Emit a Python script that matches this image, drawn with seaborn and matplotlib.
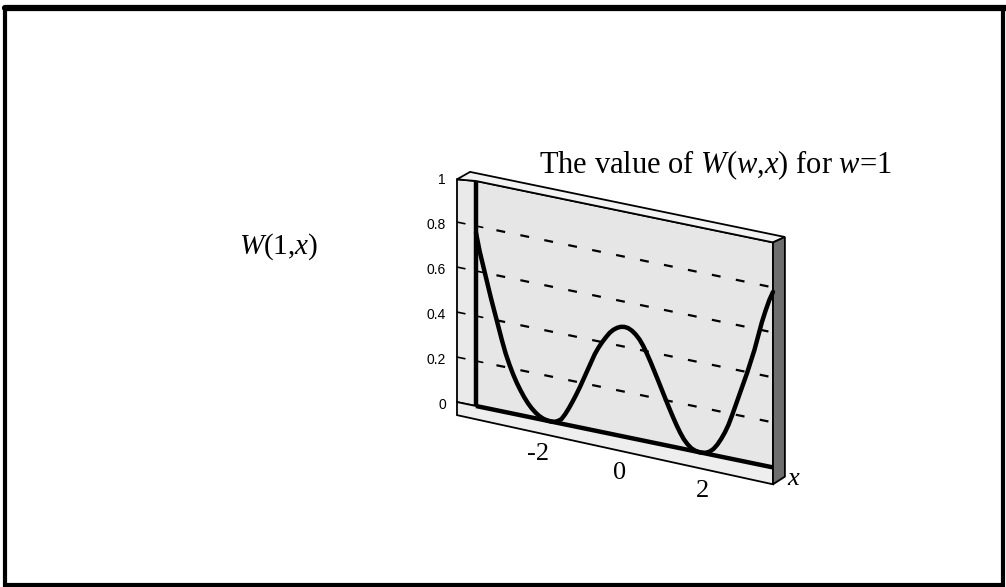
import numpy as np
import matplotlib
matplotlib.use("Agg")
import matplotlib.pyplot as plt
from matplotlib.patches import Polygon, Rectangle
from matplotlib.lines import Line2D
from matplotlib.transforms import Affine2D, offset_copy
import seaborn as sns

# curve
x_vals = [-4.0, -3.9, -3.8, -3.7, -3.6, -3.5, -3.4, -3.3, -3.2, -3.1,
          -3.0, -2.9, -2.8, -2.7, -2.6, -2.5, -2.4, -2.3, -2.2, -2.1,
          -2.0, -1.9, -1.8, -1.7, -1.6, -1.5, -1.4, -1.3, -1.2, -1.1,
          -1.0, -0.9, -0.8, -0.7, -0.6, -0.5, -0.4, -0.3, -0.2, -0.1,
          0.0, 0.1, 0.2, 0.3, 0.4, 0.5, 0.6, 0.7, 0.8, 0.9,
          1.0, 1.1, 1.2, 1.3, 1.4, 1.5, 1.6, 1.7, 1.8, 1.9,
          2.0, 2.1, 2.2, 2.3, 2.4, 2.5, 2.6, 2.7, 2.8, 2.9,
          3.0, 3.1, 3.2, 3.3, 3.4, 3.5, 3.6, 3.7, 3.8, 3.9, 4.0]
w_vals = [0.77, 0.69, 0.625, 0.56, 0.495, 0.435, 0.375, 0.315, 0.26, 0.215,
          0.175, 0.14, 0.11, 0.083, 0.06, 0.041, 0.026, 0.014, 0.006, 0.002,
          0.0, 0.001, 0.008, 0.02, 0.045, 0.075, 0.108, 0.143, 0.18, 0.22,
          0.26, 0.30, 0.34, 0.372, 0.40, 0.425, 0.448, 0.465, 0.477, 0.485,
          0.488, 0.486, 0.478, 0.465, 0.447, 0.422, 0.391, 0.357, 0.32, 0.283,
          0.245, 0.207, 0.17, 0.134, 0.10, 0.069, 0.043, 0.024, 0.01, 0.003,
          0.0, 0.0, 0.004, 0.013, 0.028, 0.05, 0.078, 0.11, 0.148, 0.195,
          0.245, 0.295, 0.345, 0.395, 0.45, 0.505, 0.57, 0.635, 0.69, 0.74, 0.78]

y_ticks = [0, 0.2, 0.4, 0.6, 0.8, 1]
y_tick_labels = ["0", "0.2", "0.4", "0.6", "0.8", "1"]
grid_levels = [0.2, 0.4, 0.6, 0.8]
x_ticks = [-2, 0, 2]
x_tick_labels = ["-2", "0", "2"]

sns.set_style("white")
plt.rcParams["text.color"] = "black"
plt.rcParams["mathtext.fontset"] = "custom"
plt.rcParams["mathtext.rm"] = "Liberation Serif"
plt.rcParams["mathtext.it"] = "Liberation Serif:italic"
serif = ["Liberation Serif", "DejaVu Serif"]
sans = ["Liberation Sans", "DejaVu Sans"]

W, H = 1006, 587
fig = plt.figure(figsize=(W / 100, H / 100), dpi=100)
fig.patch.set_facecolor("white")

# back plane of the slab, then sheared so that x runs downhill
dax = fig.add_axes([476 / W, 181 / H, 297 / W, 225 / H])
dax.set_axis_off()
shear = Affine2D().skew(0, np.arctan(-0.273))
axes_tr = shear + dax.transAxes
data_tr = dax.transScale + dax.transLimits + shear + dax.transAxes

def face(verts, color, z):
    dax.add_patch(Polygon(verts, closed=True, facecolor=color, edgecolor="black",
                          lw=1.3, transform=axes_tr, clip_on=False, zorder=z))

face([(0, 0), (1, 0), (1, 1), (0, 1)], "#e6e6e6", 1)
face([(-0.064, 0.0), (0, 0), (0, 1), (-0.064, 0.99)], "#eaeaea", 1)
face([(-0.064, 0.0), (1, 0), (1, -0.075), (-0.064, -0.058)], "#eeeeee", 1)
face([(-0.064, 0.99), (-0.02, 1.035), (1.04, 1.035), (1.0, 1.0), (0, 1.0)], "#f3f3f3", 1)
face([(1.0, 1.0), (1.04, 1.035), (1.04, -0.03), (1.0, -0.075)], "#6e6e6e", 1)

# dashed reference levels and tick marks
for g in grid_levels:
    dax.plot([-3.45, 3.9], [g, g], color="black", lw=1.6, dashes=(4, 7),
             transform=data_tr, clip_on=False, zorder=2)
for t in y_ticks[1:-1]:
    dax.plot([-4, -3.82], [t, t], color="black", lw=1.2, transform=data_tr,
             clip_on=False, zorder=2)
    dax.plot([-4.5, -4.3], [t, t], color="black", lw=1.2, transform=data_tr,
             clip_on=False, zorder=2)

# axis posts
dax.plot([-4, 4], [0, 0], color="black", lw=3.2, transform=data_tr,
         clip_on=False, zorder=3, solid_capstyle="butt")
dax.plot([-4, -4], [0, 1], color="black", lw=3.2, transform=data_tr,
         clip_on=False, zorder=3, solid_capstyle="butt")

sns.lineplot(x=x_vals, y=w_vals, ax=dax, color="black", lw=3.2,
             transform=data_tr, clip_on=False, zorder=4, sort=False,
             solid_joinstyle="round", solid_capstyle="round")
dax.set_xlim(-4, 4)
dax.set_ylim(0, 1)

for t, lab in zip(y_ticks, y_tick_labels):
    dax.text(-4, t, lab, transform=offset_copy(data_tr, fig=fig, x=-30, y=1, units="dots"),
             ha="right", va="center", fontsize=10, family=sans)
for t, lab in zip(x_ticks, x_tick_labels):
    dax.text(t, 0, lab, transform=offset_copy(data_tr, fig=fig, x=-4.5 + 4.0 * t,
                                              y=-36 - 1.5 * t, units="dots"),
             ha="center", va="center", fontsize=19, family=serif)
dax.text(4, 0, "$x$", transform=offset_copy(data_tr, fig=fig, x=21, y=-12, units="dots"),
         ha="center", va="center", fontsize=19, family=serif)

fig.text(715 / W, 1 - 165 / H, "The value of $W$($w$,$x$) for $w$=1",
         ha="center", va="center", fontsize=22, family=serif)
fig.text(279 / W, 1 - 247 / H, "$W$(1,$x$)", ha="center", va="center",
         fontsize=21, family=serif)

# page frame
fig.add_artist(Rectangle((5 / W, 2 / H), 998 / W, 577 / H, transform=fig.transFigure,
                         fill=False, lw=3, edgecolor="black"))
fig.add_artist(Line2D([5 / W, 1], [1 - 8 / H, 1 - 8 / H], transform=fig.transFigure,
                      lw=4.5, color="black"))

fig.savefig("out.png", dpi=100)
